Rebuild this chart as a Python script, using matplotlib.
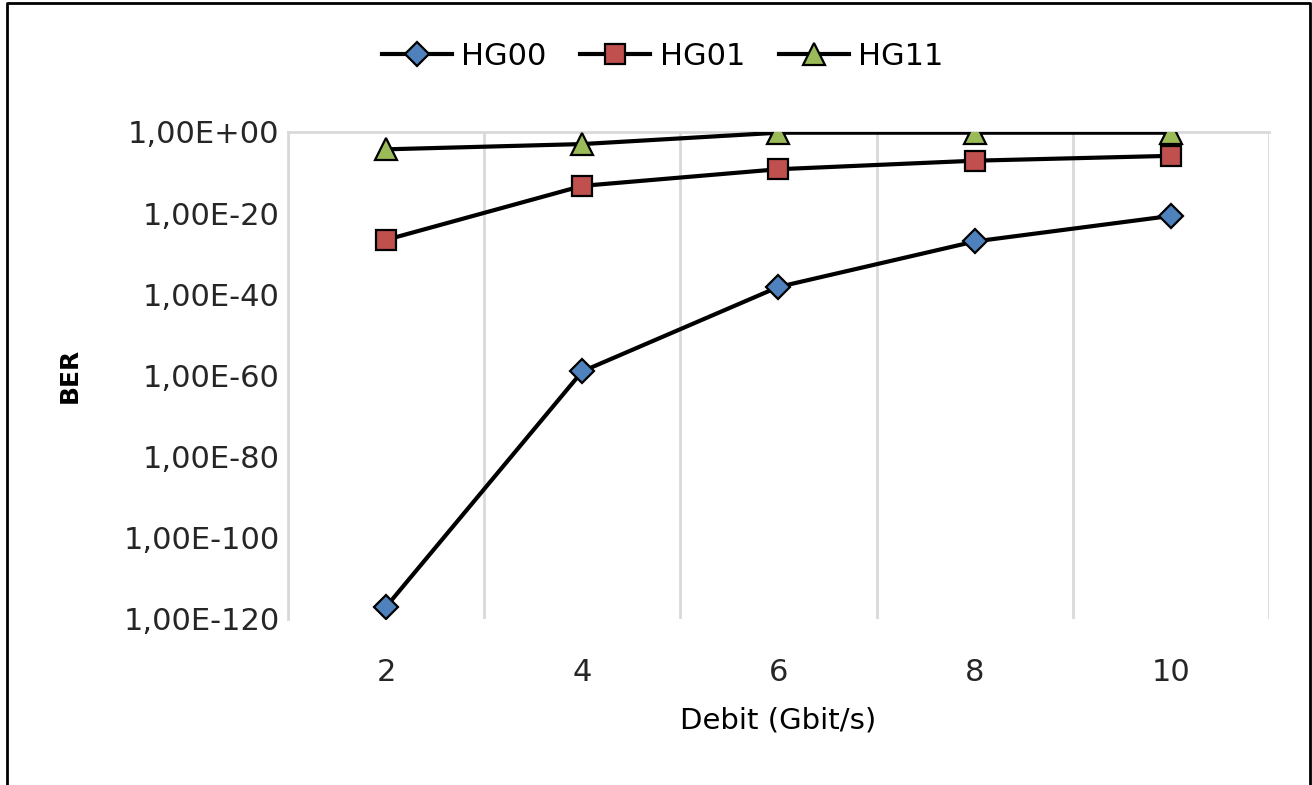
import numpy as np
import matplotlib.pyplot as plt
from matplotlib.lines import Line2D
from matplotlib.ticker import FixedLocator, FuncFormatter

debit = [2, 4, 6, 8, 10]
hg00 = [1e-117, 1e-59, 10**-38.2, 1e-27, 10**-20.7]
hg01 = [10**-26.6, 10**-13.3, 10**-9.2, 10**-7.1, 10**-5.9]
hg11 = [10**-4.3, 10**-3.0, 10**-0.2, 10**-0.2, 10**-0.2]

x_ticks = [2, 4, 6, 8, 10]
y_ticks = [1e0, 1e-20, 1e-40, 1e-60, 1e-80, 1e-100, 1e-120]

fig = plt.figure(figsize=(13.12, 7.85), dpi=100)
ax = fig.add_axes([0.2195, 0.2115, 0.7477, 0.6205])

series = [
    ('HG00', hg00, 'D', '#4F81BD', 12),
    ('HG01', hg01, 's', '#C0504D', 14),
    ('HG11', hg11, '^', '#9BBB59', 16),
]
for name, vals, mk, col, ms in series:
    ax.plot(debit, vals, color='black', lw=3, marker=mk, markersize=ms,
            markerfacecolor=col, markeredgecolor='black', markeredgewidth=1.6,
            label=name, zorder=3)

ax.set_yscale('log')
ax.set_xlim(1, 11)
ax.set_ylim(1e-120, 1e0)

ax.yaxis.set_major_locator(FixedLocator(y_ticks))
ax.yaxis.set_minor_locator(FixedLocator([]))

def fmt(v, pos):
    e = int(round(np.log10(v)))
    return '1,00E+00' if e == 0 else '1,00E-%d' % (-e)

ax.yaxis.set_major_formatter(FuncFormatter(fmt))
ax.set_xticks(x_ticks)
ax.set_xticks([1, 3, 5, 7, 9, 11], minor=True)

ax.tick_params(axis='both', which='both', length=0, labelsize=22, colors='#262626')
ax.tick_params(axis='x', pad=28)
ax.tick_params(axis='y', pad=6)

ax.grid(False)
ax.xaxis.grid(True, which='minor', color='#D9D9D9', lw=2)
ax.axhline(1e0, color='#D9D9D9', lw=2, zorder=1, clip_on=False)

for s in ['top', 'right', 'bottom']:
    ax.spines[s].set_visible(False)
ax.spines['left'].set_color('#D9D9D9')
ax.spines['left'].set_linewidth(2)

ax.set_xlabel('Debit (Gbit/s)', fontsize=21, labelpad=14)
ax.set_ylabel('BER', fontsize=18, fontweight='bold', labelpad=30)

fig.legend(loc='center', bbox_to_anchor=(0.505, 0.928), ncol=3, frameon=False,
           fontsize=22, handlelength=2.3, handletextpad=0.3, columnspacing=1.1)

# figure border (left, top, right)
fig.add_artist(Line2D([0.005, 0.005, 0.9985, 0.9985], [0.0, 0.996, 0.996, 0.0],
                      transform=fig.transFigure, color='black', lw=2))

fig.savefig('out.png', dpi=100)
